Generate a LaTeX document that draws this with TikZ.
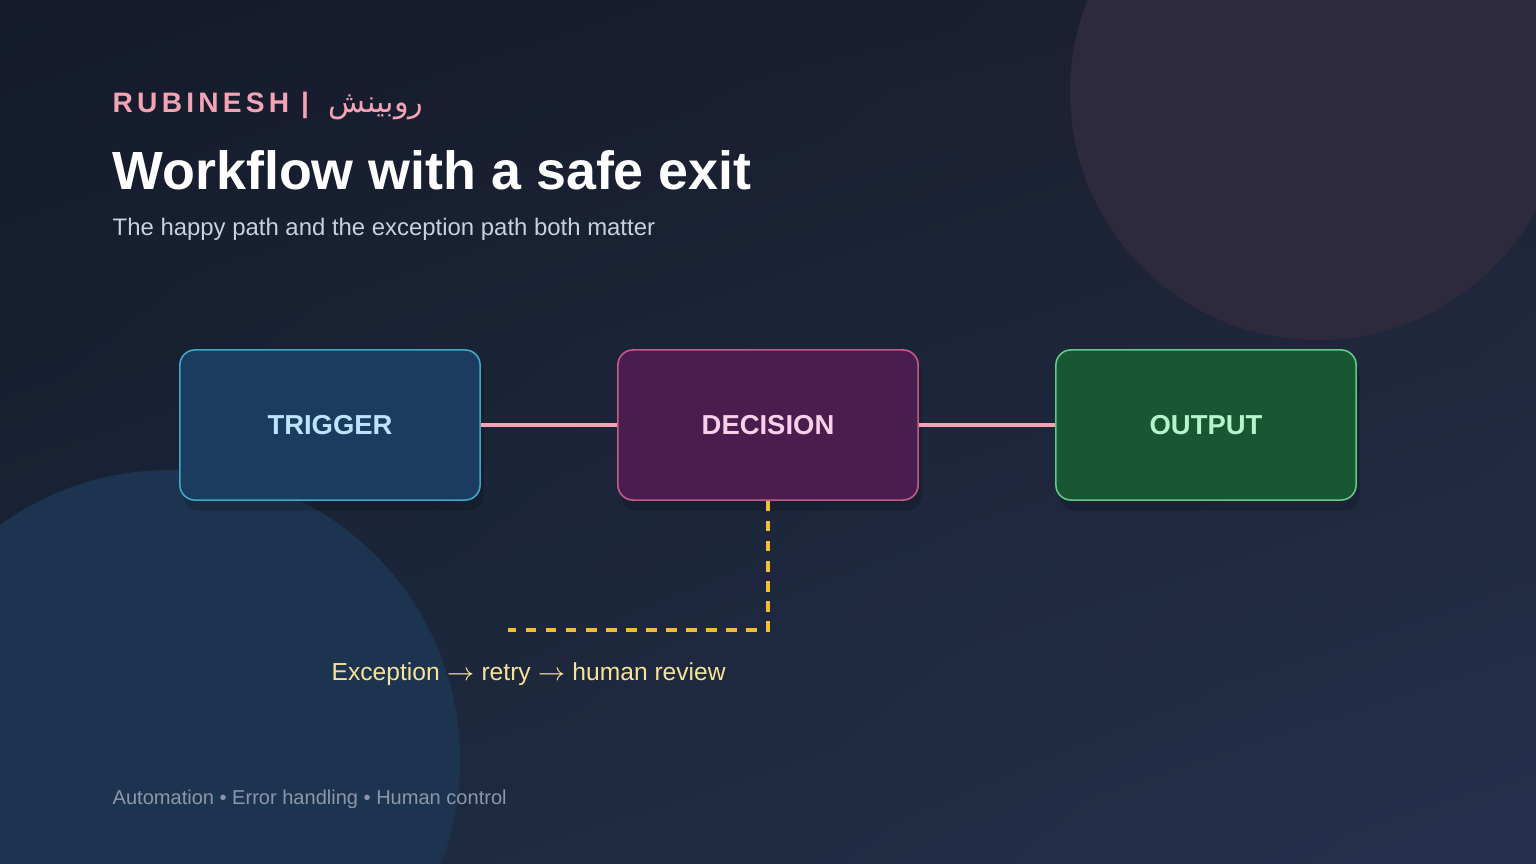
\documentclass[tikz,border=0pt]{standalone}
\usepackage{fontspec}
\setmainfont{Liberation Sans}
\newfontfamily\arabicfont[Script=Arabic]{DejaVu Sans}
\newfontfamily\spacedfont[LetterSpace=15]{Liberation Sans}
\TeXXeTstate=1
\usetikzlibrary{shadows,shadings}
\definecolor{bgTL}{HTML}{141A2A}
\definecolor{bgTR}{HTML}{1E2233}
\definecolor{bgBL}{HTML}{1B283B}
\definecolor{bgBR}{HTML}{25304D}
\definecolor{blobPink}{HTML}{2E2A3E}
\definecolor{blobBlue}{HTML}{1D3450}
\definecolor{brandPink}{HTML}{F4A3B4}
\definecolor{subGrey}{HTML}{C9D1DF}
\definecolor{footGrey}{HTML}{8D97AA}
\definecolor{trigFill}{HTML}{1B3C5F}
\definecolor{trigLine}{HTML}{3FA8C8}
\definecolor{trigText}{HTML}{BEE3FF}
\definecolor{deciFill}{HTML}{4A1D4F}
\definecolor{deciLine}{HTML}{C25B8C}
\definecolor{deciText}{HTML}{F8D0E8}
\definecolor{outFill}{HTML}{195632}
\definecolor{outLine}{HTML}{62C98C}
\definecolor{outText}{HTML}{B8F4CB}
\definecolor{exitYellow}{HTML}{F4BE2E}
\definecolor{exitText}{HTML}{F6E39B}
\begin{document}
\begin{tikzpicture}[x=0.01cm,y=-0.01cm,
    box/.style={draw,line width=0.45pt,rounded corners=0.15cm,minimum width=3cm,minimum height=1.5cm,
        font=\fontsize{7.8}{9}\selectfont\bfseries,
        drop shadow={shadow xshift=1pt,shadow yshift=-3pt,opacity=0.16,fill=black}},
    link/.style={line width=1.1pt,brandPink},
    txt/.style={inner sep=0pt,anchor=base west}]
        \useasboundingbox (0,0) rectangle (1536,864);
        \shade[upper left=bgTL,upper right=bgTR,lower left=bgBL,lower right=bgBR] (0,0) rectangle (1536,864);
        \fill[blobPink] (1318,92) circle (248);
        \fill[blobBlue] (170,760) circle (290);
        % header
        \node[txt,brandPink] (brand) at (112,113) {\fontsize{8}{10}\selectfont\bfseries\spacedfont RUBINESH\ |\hspace{0.7em}{\arabicfont\mdseries\fontsize{8.6}{10}\selectfont\beginR روبينش\endR}};
        \node[txt,white] (title) at (112,190) {\fontsize{15.3}{18}\selectfont\bfseries Workflow with a safe exit};
        \node[txt,subGrey] (subtitle) at (112,236) {\fontsize{6.8}{8}\selectfont The happy path and the exception path both matter};
        % flow
        \node[box,fill=trigFill,draw=trigLine,text=trigText] (trigger) at (330,425) {TRIGGER};
        \node[box,fill=deciFill,draw=deciLine,text=deciText] (decision) at (768,425) {DECISION};
        \node[box,fill=outFill,draw=outLine,text=outText] (output) at (1206,425) {OUTPUT};
        \draw[link] (trigger) -- (decision);
        \draw[link] (decision) -- (output);
        \coordinate (exitend) at (508,630);
        \draw[line width=1.1pt,exitYellow,dash pattern=on 3pt off 2.7pt] (decision.south) |- (exitend);
        \node[txt,exitText] (exitnote) at (331,680) {\fontsize{7}{9}\selectfont Exception $\rightarrow$ retry $\rightarrow$ human review};
        \node[txt,footGrey] (footer) at (112,804) {\fontsize{5.7}{7}\selectfont Automation • Error handling • Human control};
    \end{tikzpicture}
\end{document}
